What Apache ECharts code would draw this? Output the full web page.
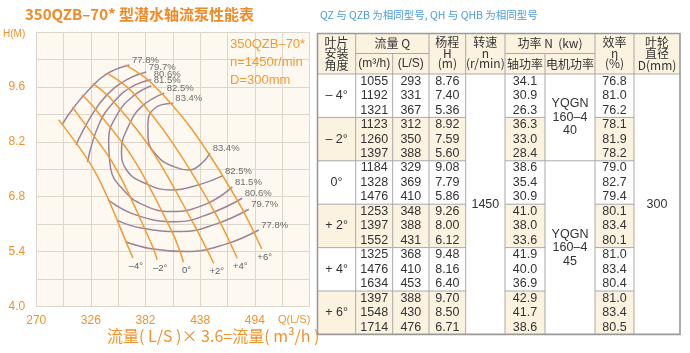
<!DOCTYPE html>
<html><head><meta charset="utf-8">
<script src="https://cdn.jsdelivr.net/npm/echarts@6/dist/echarts.min.js"></script>
<style>html,body{margin:0;padding:0;background:#fff;}#c{width:690px;height:353px;}</style>
</head><body><div id="c"></div>
<script>
// ================= DATA =================
const angleNames = ['–4°', '–2°', '0°', '+2°', '+4°', '+6°'];
const tableAngles = ['– 4°', '– 2°', '0°', '+ 2°', '+ 4°', '+ 6°'];
const flowM3h = [[1055,1192,1321],[1123,1260,1397],[1184,1328,1476],[1253,1397,1552],[1325,1476,1634],[1397,1548,1714]];
const flowLS  = [[293,331,367],[312,350,388],[329,369,410],[348,388,431],[368,410,453],[388,430,476]];
const headM   = [['8.76','7.40','5.36'],['8.92','7.59','5.60'],['9.08','7.79','5.86'],['9.26','8.00','6.12'],['9.48','8.16','6.40'],['9.70','8.50','6.71']];
const shaftKW = [['34.1','30.9','26.3'],['36.3','33.0','28.4'],['38.6','35.4','30.9'],['41.0','38.0','33.6'],['41.9','40.0','36.9'],['42.9','41.7','38.6']];
const effPct  = [['76.8','81.0','76.2'],['78.1','81.9','78.2'],['79.0','82.7','79.4'],['80.1','83.4','80.1'],['81.0','83.4','80.4'],['81.0','83.4','80.5']];
const speedText = '1450';
const motorTexts = ['YQGN\n160–4\n40', 'YQGN\n160–4\n45'];
const impellerText = '300';
// curve extensions beyond the tabulated points
const lineStart = [[293.5,8.74],[307,9.08],[317,9.40],[328,9.69],[344,9.93],[361.5,10.16]];
const lineEnd   = [[369,5.24],[394,5.19],[421,5.13],[452,5.10],[476,5.23],[501,5.47]];
// efficiency contours (Q L/S, H m)
const eff778Up  = [[365.5,10.16],[342.2,9.93],[321.8,9.47],[306.6,9.01],[297,8.66]];
const eff778Low = [[361.5,5.65],[387.9,5.47],[423.5,5.40],[464.1,5.59],[498,5.95]];
const eff797Up  = [[382.8,9.98],[362.5,9.78],[342.2,9.39],[326.9,8.88],[310.7,8.12]];
const eff797Low = [[353.5,6.19],[377.7,6.00],[418.4,5.91],[453.9,6.10],[487.8,6.48]];
const eff806Up  = [[387.9,9.78],[367.6,9.60],[349.3,9.21],[334.0,8.63],[322.5,7.68]];
const eff806Low = [[343.5,6.72],[372.6,6.33],[413.3,6.16],[448.9,6.38],[481.1,6.76]];
const eff815 = [[387.9,9.63],[369.6,9.37],[353.3,8.91],[344.2,8.25],[346.2,7.53],[359.4,6.97],[379.8,6.59],[408.2,6.42],[443.8,6.61],[471,7.05]];
const eff825 = [[401.1,9.44],[377.7,9.09],[364.2,8.58],[357.4,7.99],[362.5,7.48],[380.8,7.15],[408.2,6.97],[438.7,7.12],[460.8,7.33]];
const eff834 = [[410,9.18],[391.2,9.05],[384.5,8.67],[384.5,8.33],[394.7,7.82],[411.6,7.56],[426.5,7.48],[438.7,7.63],[448.2,7.91]];
const xTickLabels = ['270','326','382','438','494'];
const yTickLabels = ['4.0','5.4','6.8','8.2','9.6'];

// ================= STYLE =================
const ORANGE = '#f39a30';
const AXIS_OR = '#f0932c';
const PURPLE = '#9d8397';
const GRIDC = '#dcd6cc';
const CREAM = '#fcf2e0';
const NARROW = "'Liberation Sans Narrow','Arial Narrow','Liberation Sans',sans-serif";
const CJK = "'Noto Sans CJK SC',sans-serif";

const chart = echarts.init(document.getElementById('c'), null, {renderer:'canvas'});

const series = [];
angleNames.forEach((nm, i) => {
  const pts = [lineStart[i]];
  for (let k = 0; k < 3; k++) pts.push([flowLS[i][k], parseFloat(headM[i][k])]);
  pts.push(lineEnd[i]);
  series.push({type:'line', name:nm, data:pts, smooth:0.35, symbol:'none', silent:true,
    lineStyle:{color:ORANGE, width:1.5}, z:3});
});
const contours = [
  [eff778Up,'77.8%','first'],[eff778Low,'77.8%','last'],
  [eff797Up,'79.7%','first'],[eff797Low,'79.7%','last'],
  [eff806Up,'80.6%','first'],[eff806Low,'80.6%','last'],
  [eff815,'81.5%','both'],[eff825,'82.5%','both'],[eff834,'83.4%','both']
];
const labelData = [];
contours.forEach(([d, t, w]) => {
  series.push({type:'line', data:d, smooth:0.45, symbol:'none', silent:true,
    lineStyle:{color:PURPLE, width:1.5}, z:2});
  if (w === 'first' || w === 'both') labelData.push([d[0][0], d[0][1], t]);
  if (w === 'last' || w === 'both') labelData.push([d[d.length-1][0], d[d.length-1][1], t]);
});
series.push({type:'scatter', data:labelData, symbolSize:1, silent:true,
  itemStyle:{color:'rgba(0,0,0,0)'}, z:5,
  label:{show:true, position:'right', distance:2, offset:[0,-5], formatter:p=>p.value[2],
    color:'#4a4a4a', fontSize:9.5, fontFamily:NARROW}});
series.push({type:'scatter', data:lineEnd.map((p,i)=>[p[0],p[1],angleNames[i]]), symbolSize:1, silent:true,
  itemStyle:{color:'rgba(0,0,0,0)'}, z:5,
  label:{show:true, position:'bottom', distance:3, offset:[3,0], formatter:p=>p.value[2],
    color:'#333', fontSize:9.5, fontFamily:NARROW}});

// ================= TABLE (graphic) =================
const colX = [317.5,355.7,392.7,429,465.7,505,545,595,634,680];
const hTop = 33.5, hMid = 53.5, hBot = 74, gH = 43.4, rH = gH/3, tBot = hBot + 6*gH;
const LINEC = '#a9a9a9';
const G = [];
const rect = (x,y,w,h,fill)=>G.push({type:'rect', silent:true, shape:{x,y,width:w,height:h}, style:{fill}, z:10});
const line = (x1,y1,x2,y2,w)=>G.push({type:'line', silent:true, shape:{x1,y1,x2,y2}, style:{stroke:LINEC, lineWidth:w||1}, z:12});
const txt = (x,y,t,font,lh,fill)=>G.push({type:'text', silent:true, x, y, style:{text:t, font, fill:fill||'#333',
  align:'center', verticalAlign:'middle', lineHeight:lh||14}, z:14});
const cx = c => (colX[c]+colX[c+1])/2;
rect(colX[0], hTop, colX[9]-colX[0], tBot-hTop, '#fff');
rect(colX[0], hTop, colX[9]-colX[0], hBot-hTop, CREAM);
[1,3,5].forEach(gi => [0,1,2,3,5,7].forEach(c => rect(colX[c], hBot+gi*gH, colX[c+1]-colX[c], gH, CREAM)));
for (let c = 1; c < 9; c++) {
  const y0 = (c === 2 || c === 6) ? hMid : hTop;
  line(colX[c], y0, colX[c], tBot);
}
line(colX[1], hMid, colX[3], hMid);
line(colX[5], hMid, colX[7], hMid);
line(colX[0], hBot, colX[9], hBot);
for (let gi = 1; gi < 6; gi++) {
  const y = hBot + gi*gH;
  line(colX[0], y, colX[4], y);
  line(colX[5], y, colX[6], y);
  line(colX[7], y, colX[8], y);
  if (gi === 2) line(colX[6], y, colX[7], y);
}
G.push({type:'rect', silent:true, shape:{x:colX[0], y:hTop, width:colX[9]-colX[0], height:tBot-hTop},
  style:{fill:'none', stroke:'#9a9a9a', lineWidth:1.6}, z:13});
const HF = '12px ' + CJK;
txt(cx(0), 53.7, '叶片\n安装\n角度', HF, 11.5);
txt((colX[1]+colX[3])/2, 43.5, '流量 Q', HF);
txt(cx(1), 64, '(m³/h)', '12px ' + NARROW);
txt(cx(2), 64, '(L/S)', '12px ' + NARROW);
txt(cx(3), 53.3, '杨程\nH\n(m)', HF, 10.5);
txt(cx(4), 53.3, '转速\nn\n(r/min)', HF, 10.5);
txt((colX[5]+colX[7])/2, 43.5, '功率 N  (kw)', HF);
txt(cx(5), 64, '轴功率', HF);
txt(cx(6), 64, '电机功率', HF);
txt(cx(7), 53.3, '效率\nη\n(%)', HF, 10.5);
txt(cx(8), 53.7, '叶轮\n直径\nD(mm)', HF, 11.5);
const NF = '12.5px ' + NARROW;
for (let gi = 0; gi < 6; gi++) {
  const gy = hBot + gi*gH;
  txt(cx(0), gy + 1.5*rH, tableAngles[gi], NF);
  for (let r = 0; r < 3; r++) {
    const y = gy + (r+0.5)*rH;
    txt(cx(1), y, String(flowM3h[gi][r]), NF);
    txt(cx(2), y, String(flowLS[gi][r]), NF);
    txt(cx(3), y, headM[gi][r], NF);
    txt(cx(5), y, shaftKW[gi][r], NF);
    txt(cx(7), y, effPct[gi][r], NF);
  }
}
txt(cx(4), (hBot+tBot)/2, speedText, NF);
txt(cx(8), (hBot+tBot)/2, impellerText, NF);
txt(cx(6), hBot + gH, motorTexts[0], NF, 13.5);
txt(cx(6), hBot + 4*gH, motorTexts[1], NF, 13.5);
G.push({type:'text', silent:true, x:25, y:14, style:{text:'350QZB–70* 型潜水轴流泵性能表', font:'bold 15px ' + CJK, fill:'#f08a26', verticalAlign:'middle'}});
G.push({type:'text', silent:true, x:320, y:15, style:{text:'QZ 与 QZB 为相同型号, QH 与 QHB 为相同型号', font:'10.5px ' + CJK, fill:'#4c9cd8', verticalAlign:'middle'}});
G.push({type:'text', silent:true, x:230, y:62, style:{text:'350QZB–70*\nn=1450r/min\nD=300mm', font:'13px ' + NARROW, fill:ORANGE, verticalAlign:'middle', lineHeight:18}, z:20});
G.push({type:'text', silent:true, x:107, y:336, style:{text:'流量( L/S )× 3.6=流量( m³/h )', font:'16px ' + CJK, fill:AXIS_OR, verticalAlign:'middle'}});

chart.setOption({
  animation:false,
  backgroundColor:'#fff',
  grid:{left:34, top:32, width:275.5, height:274.5, show:true, backgroundColor:'#fdf9f1', borderWidth:0},
  xAxis:{type:'value', min:270, max:550, interval:28,
    axisLine:{show:true, lineStyle:{color:GRIDC}}, axisTick:{show:false},
    splitLine:{show:true, lineStyle:{color:GRIDC, width:1}},
    axisLabel:{color:AXIS_OR, fontSize:12, fontFamily:NARROW, margin:8,
      formatter:v=>{ const s=String(Math.round(v)); if (s==='522') return '{q|Q(L/S)}'; return xTickLabels.includes(s)?s:''; },
      rich:{q:{color:AXIS_OR, fontSize:11, fontFamily:NARROW, padding:[0,0,0,24]}}}},
  yAxis:{type:'value', min:4.0, max:11.0, interval:0.7,
    axisLine:{show:true, lineStyle:{color:GRIDC}}, axisTick:{show:false},
    splitLine:{show:true, lineStyle:{color:GRIDC, width:1}},
    axisLabel:{color:AXIS_OR, fontSize:12, fontFamily:NARROW, margin:11,
      formatter:v=>{ const s=(Math.round(v*10)/10).toFixed(1); if (s==='11.0') return '{h|H(M)}'; return yTickLabels.includes(s)?s:''; },
      rich:{h:{color:AXIS_OR, fontSize:10, fontFamily:NARROW, padding:[4,0,0,0]}}}},
  series,
  graphic:G
});
</script></body></html>
